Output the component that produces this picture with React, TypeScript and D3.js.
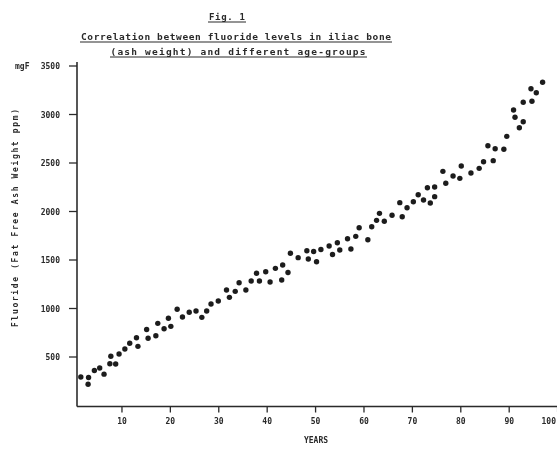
import React from "react";
import * as d3 from "d3";

const ages = [
  1.5, 3.1, 3.0, 4.3, 5.4, 6.3, 7.5, 7.7, 8.7, 9.4, 10.6, 11.6, 13.0, 13.3, 15.1, 15.4,
  17.0, 17.4, 18.7, 19.6, 20.1, 21.4, 22.5, 23.9, 25.3, 26.5, 27.5, 28.4, 29.9, 31.6,
  32.2, 33.4, 34.2, 35.6, 36.7, 37.8, 38.4, 39.7, 40.6, 41.7, 43.0, 43.2, 44.3, 44.8,
  46.4, 48.2, 48.5, 49.6, 50.2, 51.1, 52.8, 53.5, 54.5, 55.0, 56.6, 57.3, 58.3, 59.0,
  60.8, 61.6, 62.6, 63.2, 64.2, 65.8, 67.4, 67.9, 68.9, 70.2, 71.2, 72.3, 73.1, 73.7,
  74.6, 74.6, 76.3, 76.9, 78.4, 79.8, 80.1, 82.1, 83.8, 84.7, 85.6, 86.7, 87.1, 88.9,
  89.5, 90.9, 91.2, 92.1, 92.9, 92.9, 94.7, 94.5, 95.6, 96.9,
];

const fluoride = [
  294, 289, 219, 361, 387, 323, 430, 507, 428, 531, 582, 641, 698, 610, 784, 693,
  719, 847, 792, 899, 816, 992, 912, 961, 974, 909, 974, 1046, 1077, 1191,
  1115, 1177, 1266, 1191, 1284, 1363, 1284, 1379, 1273, 1414, 1294, 1448, 1371, 1569,
  1524, 1596, 1510, 1588, 1482, 1608, 1644, 1557, 1678, 1603, 1719, 1613, 1744, 1833,
  1709, 1843, 1909, 1981, 1899, 1961, 2091, 1946, 2039, 2101, 2173, 2119, 2245, 2088,
  2253, 2153, 2414, 2291, 2366, 2342, 2469, 2397, 2445, 2513, 2678, 2524, 2647, 2641,
  2775, 3046, 2971, 2864, 2926, 3126, 3136, 3266, 3225, 3332,
];

const yTicks = [500, 1000, 1500, 2000, 2500, 3000, 3500];
const xTicks = [10, 20, 30, 40, 50, 60, 70, 80, 90, 100];

const figLabel = "Fig. 1";
const titleLine1 = "Correlation between fluoride levels in iliac bone";
const titleLine2 = "(ash weight) and different age-groups";
const yUnit = "mgF";
const yTitle = "Fluoride (Fat Free Ash Weight ppm)";
const xTitle = "YEARS";

const W = 557;
const H = 449;
const FONT = "'DejaVu Sans Mono', 'Liberation Mono', monospace";
const INK = "#2a2a2a";

export default function App() {
  const x = d3.scaleLinear().domain([1, 100]).range([78.4, 557.6]);
  const y = d3.scaleLinear().domain([0, 3500]).range([405.5, 66]);
  const axisX = 77;
  const axisY = 406.5;

  const points = ages.map((a, i) => ({ a, v: fluoride[i] }));

  return (
    <svg
      width={W}
      height={H}
      viewBox={`0 0 ${W} ${H}`}
      style={{ position: "absolute", left: 0, top: 0, background: "#fff" }}
    >
      <defs>
        <filter id="soft" x="-5%" y="-5%" width="110%" height="110%">
          <feGaussianBlur stdDeviation="0.35" />
        </filter>
      </defs>
      <g filter="url(#soft)" fontFamily={FONT} fill={INK}>
        {/* titles */}
        <text x={227} y={20} fontSize={9} fontWeight="bold" textAnchor="middle" textLength={36}>
          {figLabel}
        </text>
        <line x1={208} x2={246} y1={22} y2={22} stroke={INK} strokeWidth={1.2} />
        <text x={236} y={40} fontSize={9.5} fontWeight="bold" textAnchor="middle" textLength={310}>
          {titleLine1}
        </text>
        <line x1={80} x2={392} y1={42} y2={42} stroke={INK} strokeWidth={1.2} />
        <text x={238} y={55} fontSize={9.5} fontWeight="bold" textAnchor="middle" textLength={255}>
          {titleLine2}
        </text>
        <line x1={110} x2={367} y1={57} y2={57} stroke={INK} strokeWidth={1.2} />

        {/* y axis */}
        <line x1={axisX} x2={axisX} y1={62} y2={axisY} stroke={INK} strokeWidth={1.6} />
        {yTicks.map((t) => (
          <g key={`yt${t}`}>
            <line x1={axisX - 8} x2={axisX} y1={y(t)} y2={y(t)} stroke={INK} strokeWidth={1.3} />
            <text x={60} y={y(t) + 3} fontSize={8} fontWeight="bold" textAnchor="end">
              {t}
            </text>
          </g>
        ))}
        <text x={15} y={y(3500) + 3} fontSize={8} fontWeight="bold">
          {yUnit}
        </text>
        <text
          transform={`translate(18, 218) rotate(-90)`}
          fontSize={8}
          fontWeight="bold"
          textAnchor="middle"
          textLength={218}
        >
          {yTitle}
        </text>

        {/* x axis */}
        <line x1={axisX} x2={W} y1={axisY} y2={axisY} stroke={INK} strokeWidth={1.6} />
        {xTicks.map((t) => {
          const px = x(t);
          const atEdge = px + 10 > W;
          return (
            <g key={`xt${t}`}>
              <line x1={px} x2={px} y1={axisY} y2={axisY + 6} stroke={INK} strokeWidth={1.3} />
              <text
                x={atEdge ? W - 1 : px}
                y={424}
                fontSize={8}
                fontWeight="bold"
                textAnchor={atEdge ? "end" : "middle"}
              >
                {t}
              </text>
            </g>
          );
        })}
        <text x={316} y={443} fontSize={8} fontWeight="bold" textAnchor="middle">
          {xTitle}
        </text>

        {/* points */}
        {points.map((p, i) => (
          <circle key={i} cx={x(p.a)} cy={y(p.v)} r={2.7} fill="#1e1e1e" />
        ))}
      </g>
    </svg>
  );
}
